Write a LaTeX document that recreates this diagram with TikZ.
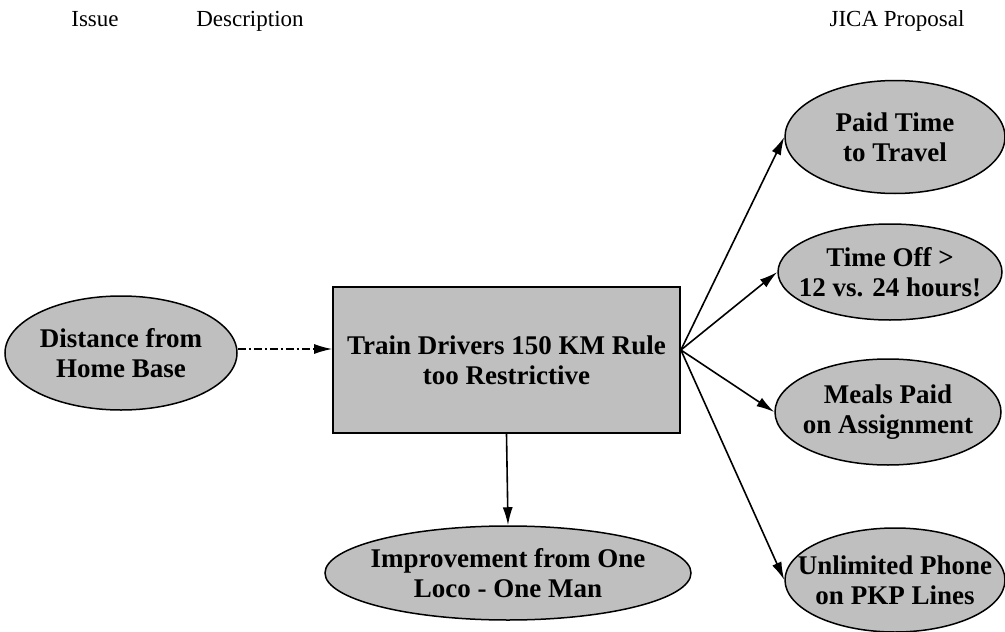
\documentclass[tikz,border=0pt]{standalone}
\usepackage{fontspec}
\setmainfont{Liberation Serif}
\usetikzlibrary{shapes.geometric,arrows.meta,calc}
\begin{document}
\begin{tikzpicture}[x=1pt,y=-1pt,
  header/.style={font=\fontsize{23}{27}\selectfont, anchor=base, inner sep=0},
  oval/.style={ellipse, draw=black, line width=1.5pt, fill=black!25, inner xsep=-40pt, inner ysep=-20pt,
    align=center, font=\fontsize{27}{30}\selectfont\bfseries},
  rbox/.style={rectangle, draw=black, line width=1.8pt, fill=black!25, inner sep=0pt,
    align=center, font=\fontsize{27}{30}\selectfont\bfseries},
  conn/.style={line width=1.6pt, -{Latex[length=18pt,width=10pt]}},
  dashconn/.style={conn, line width=1.3pt, dash pattern=on 8pt off 3pt on 2pt off 3pt}
]
\useasboundingbox (0,0) rectangle (1005,632);

\node[header] (h1) at (95,26) {Issue};
\node[header] (h2) at (250,26) {Description};
\node[header] (h3) at (897,26) {JICA Proposal};

\node[oval, minimum width=232pt, minimum height=114pt] (dist) at (121,353) {Distance from\\Home Base};
\node[rbox, minimum width=347pt, minimum height=146pt] (box) at (506.5,360) {Train Drivers 150 KM Rule\\too Restrictive};
\node[oval, minimum width=366pt, minimum height=94pt] (loco) at (508,573) {Improvement from One\\Loco - One Man};

\node[oval, minimum width=220pt, minimum height=113pt] (paid) at (895,137) {Paid Time\\to Travel};
\node[oval, minimum width=224pt, minimum height=96pt] (off) at (890,272) {Time Off >\\12 vs. 24 hours!};
\node[oval, minimum width=226pt, minimum height=106pt] (meal) at (888,412) {Meals Paid\\on Assignment};
\node[oval, minimum width=220pt, minimum height=104pt] (phone) at (895,580) {Unlimited Phone\\on PKP Lines};

\coordinate (in) at ($(box.west)+(0,-11)$);
\coordinate (fan) at ($(box.east)+(0,-10)$);

\draw[dashconn] (dist.east |- in) -- (in);
\draw[conn] (box.south) -- (loco.north);
\draw[conn] (fan) -- (paid.west);
\draw[conn] (fan) -- (off.west);
\draw[conn] (fan) -- (meal.west);
\draw[conn] (fan) -- (phone.west);
\end{tikzpicture}
\end{document}
